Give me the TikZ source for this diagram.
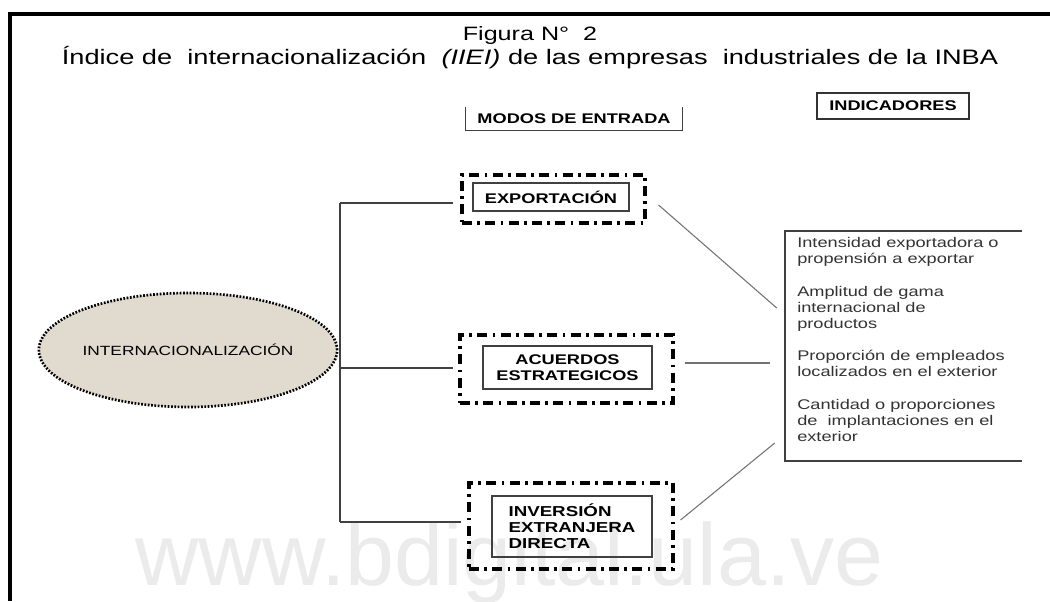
\documentclass[tikz,border=0pt]{standalone}
\usepackage{fontspec}
\setmainfont[FakeStretch=1.3]{Liberation Sans}
\newfontfamily\wmfont{Liberation Sans}
\usetikzlibrary{shapes.geometric,calc}
\newdimen\pxu \pxu=0.75pt
\definecolor{beige}{RGB}{224,218,207}
\tikzset{
  outerbox/.style={draw=black, line width=2.3pt, dash pattern=on 7.5pt off 4pt on 2pt off 4pt, inner sep=0pt},
  innerbox/.style={draw=black!75, line width=1.1pt, inner sep=0pt, align=center, font=\bfseries\fontsize{10.5}{12}\selectfont},
  conn/.style={draw=black!75, line width=1.5pt},
  link/.style={draw=black!55, line width=0.8pt},
  plain/.style={inner sep=0pt}
}
\begin{document}
\begin{tikzpicture}[x=0.75pt,y=-0.75pt]
\useasboundingbox (0,0) rectangle (1050,601);
\fill[white] (0,0) rectangle (1050,601);
% watermark
\node[plain, anchor=base west, text=black!8, font=\wmfont\fontsize{66}{66}\selectfont] (wm) at (135,585) {www.bdigital.ula.ve};
% frame
\draw[line width=3pt] (1050,14) -- (10,14) -- (10,601);
% titles
\node[plain, anchor=base, font=\fontsize{14.5}{15}\selectfont] (fig) at (530,40) {Figura N°~ 2};
\node[plain, anchor=base, font=\fontsize{15.7}{16}\selectfont] (title) at (530,64) {Índice de~ internacionalización~ \textit{(IIEI)} de las empresas~ industriales de la INBA};
% headers
\node[plain, minimum width=216*\pxu, minimum height=23*\pxu, font=\bfseries\fontsize{10.5}{12}\selectfont] (modos) at (574,118.5) {MODOS DE ENTRADA};
\draw[draw=black!75, line width=1.1pt] (modos.north west) -- (modos.south west) -- (modos.south east) -- (modos.north east);
\node[plain, draw=black!80, line width=1.2pt, minimum width=152*\pxu, minimum height=26*\pxu, font=\bfseries\fontsize{10.5}{12}\selectfont] (indic) at (893,106) {INDICADORES};
% ellipse
\node[ellipse, plain, fill=beige, draw=black, line width=2pt, dash pattern=on 1.3pt off 1.2pt, minimum width=272*\pxu, minimum height=114*\pxu, font=\fontsize{10}{12}\selectfont] (intl) at (188,350) {INTERNACIONALIZACIÓN};
% mode boxes
\node[outerbox, minimum width=183*\pxu, minimum height=48*\pxu] (expo) at (553.5,199) {};
\node[innerbox, minimum width=156*\pxu, minimum height=28*\pxu] (expi) at (551,197) {EXPORTACIÓN};
\node[outerbox, minimum width=213*\pxu, minimum height=68*\pxu] (acuo) at (566.5,369) {};
\node[innerbox, minimum width=169*\pxu, minimum height=43*\pxu] (acui) at (567.5,367.5) {ACUERDOS\\ESTRATEGICOS};
\node[outerbox, minimum width=204*\pxu, minimum height=86*\pxu] (iedo) at (571,526) {};
\node[innerbox, align=left, font=\bfseries\fontsize{10.8}{12}\selectfont, minimum width=160*\pxu, minimum height=61*\pxu] (iedi) at (572,526.5) {INVERSIÓN\\EXTRANJERA\\DIRECTA};
% tree connectors
\coordinate (j1) at (340,203);
\coordinate (j2) at (340,368);
\coordinate (j3) at (340,522);
\draw[conn] (j1) -- (j3);
\draw[conn] (j1) -- ($(j1 -| expo.west)+(-7,0)$);
\draw[conn] (j2) -- ($(j2 -| acuo.west)+(-5,0)$);
\draw[conn] (j3) -- ($(j3 -| iedo.west)+(-6,0)$);
% indicators box
\node[plain, minimum width=237*\pxu, minimum height=230*\pxu] (indb) at (903.5,346) {};
\draw[draw=black!75, line width=1.3pt] (indb.north east) -- (indb.north west) -- (indb.south west) -- (indb.south east);
\node[plain, anchor=north west, align=left, text=black!80, font=\fontsize{10.5}{12}\selectfont] (indt) at (797,237)
 {Intensidad exportadora o\\
  propensión a exportar\\[12.5pt]
  Amplitud de gama\\
  internacional de\\
  productos\\[12.5pt]
  Proporción de empleados\\
  localizados en el exterior\\[12.5pt]
  Cantidad o proporciones\\
  de~ implantaciones en el\\
  exterior};
% links to indicators
\draw[link] ($(expo.east)+(12,6)$) -- ($(indb.west)+(-8,-38)$);
\draw[link] ($(acuo.east)+(10,-6)$) -- ($(indb.west)+(-15,17)$);
\draw[link] ($(iedo.east)+(6,-6)$) -- ($(indb.west)+(-10,97)$);
\end{tikzpicture}
\end{document}
